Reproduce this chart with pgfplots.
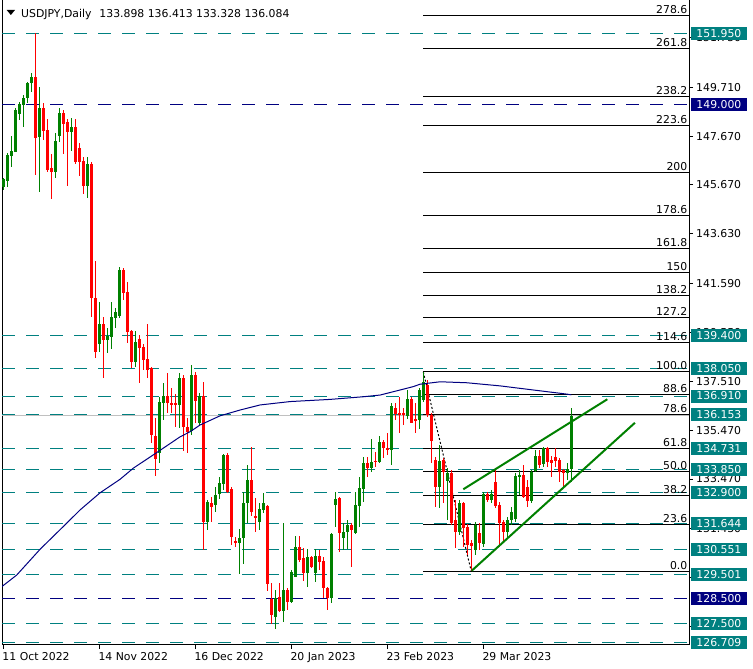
\documentclass[border=0pt]{standalone}
\usepackage{fontspec}
\setmainfont{DejaVu Sans}
\usepackage{pgfplots}
\usepackage{pgfplotstable}
\pgfplotsset{compat=1.18}
\definecolor{mtgreen}{RGB}{0,128,0}
\definecolor{mtred}{RGB}{255,0,0}
\definecolor{mtteal}{RGB}{0,128,128}
\definecolor{mtnavy}{RGB}{0,0,128}
\definecolor{mtgrey}{RGB}{192,192,192}
\newcommand\mtf{\fontsize{10.9}{13}\selectfont}
\tikzset{
  fiblab/.style={anchor=base east, font=\mtf, inner sep=0pt, xshift=-1.5bp, yshift=2bp},
  pbox/.style={fill=#1, text=white, font=\mtf, anchor=west, minimum width=56bp,
    minimum height=13bp, inner sep=0pt, xshift=1.7bp},
}

% daily candles, bar index i (0 = 11 Oct 2022)
\pgfplotstableread{
i o h l c
0 145.57 145.93 145.44 145.90
1 145.83 146.99 145.59 146.90
2 146.86 147.69 146.41 147.06
3 147.04 148.83 147.04 148.76
4 148.59 149.08 148.35 149.01
5 148.97 149.39 148.07 149.25
6 149.25 149.94 149.04 149.87
7 149.87 150.28 149.52 150.12
9 147.63 149.70 145.38 148.83
13 146.21 147.80 145.96 147.48
14 147.69 148.83 147.45 148.65
17 147.86 148.43 147.08 148.06
21 145.63 146.83 145.13 146.53
24 139.07 140.82 138.75 139.89
26 139.23 139.72 138.71 139.40
27 139.37 140.82 138.86 140.20
28 140.16 140.54 139.72 140.41
29 140.24 142.27 140.13 142.13
33 138.33 139.62 138.13 139.16
39 134.54 136.88 134.12 136.65
40 136.63 137.46 135.92 136.91
44 136.54 137.85 135.60 137.67
47 135.46 138.20 135.30 137.78
49 135.78 137.02 135.71 136.91
51 131.70 132.60 131.36 132.53
53 132.40 133.15 132.12 132.81
54 132.85 133.57 132.63 133.29
55 133.26 134.51 133.02 134.47
59 130.81 131.40 129.52 131.01
60 131.01 132.95 129.94 132.46
61 132.49 134.05 131.63 133.43
64 131.70 132.46 131.36 132.22
65 132.18 132.88 132.05 132.46
68 127.74 128.87 127.24 128.52
70 128.02 131.63 127.56 128.87
72 128.39 129.70 128.35 129.60
73 129.42 131.10 129.40 130.64
76 129.56 130.56 129.01 130.22
78 129.56 130.56 129.19 130.28
82 128.52 131.22 128.32 131.19
83 132.39 132.95 131.50 132.63
85 131.01 131.63 130.53 131.29
86 131.29 131.77 130.56 131.56
88 131.22 132.95 131.19 132.39
89 132.35 133.57 131.50 133.08
90 133.06 134.37 132.53 134.12
92 133.91 135.11 133.77 134.19
94 134.19 135.25 134.15 135.02
97 134.67 136.61 134.05 136.50
101 136.08 137.16 135.95 136.77
104 135.92 137.23 135.53 137.16
105 136.75 137.91 136.68 137.50
109 133.15 134.88 132.26 134.23
111 133.39 133.91 131.77 133.71
114 131.29 132.60 131.15 132.49
118 130.53 131.70 130.32 131.57
120 130.78 132.95 130.67 132.85
122 132.60 133.02 132.46 132.84
126 131.29 131.91 131.08 131.77
127 131.77 132.33 131.57 132.12
128 131.80 133.71 131.70 133.60
129 133.57 133.85 132.81 133.62
132 132.57 133.85 132.46 133.78
133 133.82 134.67 133.78 134.43
135 134.09 134.78 133.98 134.74
141 133.71 134.12 133.43 133.90
142 133.898 136.413 133.328 136.084
}\upc

\pgfplotstableread{
i o h l c
8 150.12 151.94 146.07 147.59
10 148.83 149.07 147.52 147.91
11 147.93 148.38 146.21 146.28
12 146.37 146.94 145.08 146.21
15 148.65 148.76 146.93 148.18
16 148.27 148.38 145.61 147.86
18 148.06 148.38 146.53 146.62
19 147.19 147.38 146.04 146.62
20 146.65 146.83 145.28 145.63
22 146.53 146.62 140.20 140.96
23 140.96 142.49 138.47 138.75
25 139.89 140.20 137.65 139.23
30 142.13 142.20 140.89 141.17
31 141.21 141.65 139.12 139.58
32 139.60 139.65 138.06 138.33
34 139.27 139.44 137.46 138.91
35 138.93 139.05 137.99 138.40
36 138.44 139.89 137.65 137.99
37 138.06 138.13 134.95 135.30
38 135.25 135.99 133.61 134.30
41 136.91 137.85 136.19 136.61
42 136.63 137.23 136.22 136.57
43 136.62 136.99 135.64 136.55
45 137.67 137.78 134.63 135.64
46 135.64 135.99 134.54 135.43
48 137.78 137.92 135.78 136.72
50 136.91 137.50 130.53 131.70
52 132.49 132.74 131.70 132.32
56 134.47 134.55 132.88 132.95
57 133.04 133.15 130.74 131.08
58 130.92 131.08 130.64 130.83
62 133.43 134.81 131.94 132.12
63 131.94 132.67 131.29 131.88
66 132.35 132.39 128.84 129.12
67 128.52 129.15 127.46 127.83
69 128.57 129.17 127.95 128.02
71 128.87 128.94 128.04 128.39
74 130.67 131.11 130.05 130.12
75 130.18 130.60 129.24 129.59
77 130.25 130.29 129.77 129.84
79 130.28 130.53 129.70 130.05
80 130.07 130.25 128.53 128.94
81 128.94 129.01 128.04 128.52
84 132.67 132.74 130.46 131.22
87 131.56 131.63 129.81 131.36
91 134.12 134.40 133.57 133.91
93 134.23 134.60 133.96 134.19
95 135.02 135.09 134.33 134.74
96 134.74 135.36 134.46 134.70
98 136.43 136.61 135.92 136.15
99 136.19 136.88 135.36 136.12
100 136.19 136.40 135.71 136.15
102 136.77 136.88 135.78 135.81
103 135.95 136.61 135.36 135.89
106 137.37 137.58 136.06 136.12
107 136.12 136.19 134.12 135.06
108 134.26 134.40 132.33 133.15
110 134.26 134.33 132.46 133.78
112 133.71 133.85 131.57 131.63
113 131.77 132.60 130.60 131.29
115 132.49 132.53 130.67 131.43
116 131.47 131.61 130.32 130.74
117 130.81 130.94 129.64 130.71
119 131.22 131.63 130.53 130.81
121 132.85 132.95 132.53 132.60
123 133.36 133.85 132.26 132.35
124 132.39 132.53 130.67 131.63
125 131.70 131.77 130.81 131.29
130 133.64 134.05 132.67 132.74
131 133.15 133.43 132.33 132.57
134 134.43 134.67 133.91 134.05
136 134.74 134.81 133.98 134.19
137 134.26 134.43 133.54 134.12
138 134.37 134.74 133.98 134.23
139 134.26 134.33 133.36 133.78
140 133.85 133.87 133.15 133.74
}\dnc

% moving average
\pgfplotstableread{
i m
-0.3 129.02
3.35 129.49
9.2 130.56
15.85 131.64
19.2 132.19
24.2 132.90
29.2 133.46
32.5 133.92
37.5 134.47
44.2 135.22
46.7 135.43
49.2 135.71
54.2 136.09
59.2 136.33
64.2 136.54
71.7 136.68
81.7 136.77
90 136.88
94.2 136.95
99.2 137.16
102.5 137.30
104.2 137.40
109.2 137.50
115.85 137.46
124.2 137.33
132.5 137.16
140.85 136.99
142 136.96
}\ma

\begin{document}
\begin{tikzpicture}
\useasboundingbox (0,0) rectangle (753bp,669bp);
\begin{axis}[
    at={(2bp,24bp)}, anchor=south west,
    scale only axis, width=687bp, height=645bp,
    xmin=-0.325, xmax=171.425, ymin=126.592, ymax=153.322,
    clip mode=individual,
    axis line style={black, line width=1bp},
    tick align=outside, major tick length=4bp,
    tick style={black, line width=1bp},
    xtick pos=bottom, ytick pos=right, yticklabel pos=right,
    xtick={0,24,48,72,96,120},
    xticklabels={11 Oct 2022,14 Nov 2022,16 Dec 2022,20 Jan 2023,23 Feb 2023,29 Mar 2023},
    ytick={151.75,149.71,147.67,145.67,143.63,141.59,139.55,137.51,135.47,133.47,131.43,129.39,127.35},
    yticklabels={151.750,149.710,147.670,145.670,143.630,141.590,139.550,137.510,135.470,133.470,131.430,,},
    xticklabel style={font=\mtf, anchor=north west, inner sep=0pt, xshift=-1bp, yshift=-3bp},
    yticklabel style={font=\mtf, anchor=west, inner sep=0pt, xshift=3bp},
]
% horizontal levels
\pgfplotsinvokeforeach{151.95,139.4,138.05,136.91,136.153,134.731,133.85,132.9,131.644,130.551,129.501,127.5,126.709}{
  \addplot[mtteal, line width=1bp, dash pattern=on 13bp off 11bp, forget plot] coordinates {(-0.325,#1) (171.425,#1)};
}
\pgfplotsinvokeforeach{149,128.5}{
  \addplot[mtnavy, line width=1bp, dash pattern=on 13bp off 11bp, forget plot] coordinates {(-0.325,#1) (171.425,#1)};
}
\addplot[mtgrey, line width=1bp, forget plot] coordinates {(-0.325,136.084) (171.425,136.084)};

% fibonacci levels (0 = 129.64, 100 = 137.91)
\pgfplotsinvokeforeach{129.640,131.592,132.799,133.775,134.751,136.140,136.967,137.910,139.117,140.159,141.069,142.045,143.021,144.410,146.180,148.132,149.339,151.291,152.680}{
  \addplot[black, line width=1bp, forget plot] coordinates {(105,#1) (171.425,#1)};
}
\addplot[black, line width=1bp, dash pattern=on 2bp off 2bp, forget plot] coordinates {(105,137.91) (117,129.64)};

% candles
\addplot[draw=none, forget plot, error bars/.cd, y dir=both, y explicit, error mark=none,
  error bar style={draw=mtgreen, line width=1bp}]
  table[x=i, y expr={(\thisrow{h}+\thisrow{l})/2}, y error expr={(\thisrow{h}-\thisrow{l})/2}] {\upc};
\addplot[draw=none, forget plot, error bars/.cd, y dir=both, y explicit, error mark=none,
  error bar style={draw=mtgreen, line width=3bp}]
  table[x=i, y expr={(\thisrow{o}+\thisrow{c})/2}, y error expr={max(abs(\thisrow{c}-\thisrow{o})/2,0.021)}] {\upc};
\addplot[draw=none, forget plot, error bars/.cd, y dir=both, y explicit, error mark=none,
  error bar style={draw=mtred, line width=1bp}]
  table[x=i, y expr={(\thisrow{h}+\thisrow{l})/2}, y error expr={(\thisrow{h}-\thisrow{l})/2}] {\dnc};
\addplot[draw=none, forget plot, error bars/.cd, y dir=both, y explicit, error mark=none,
  error bar style={draw=mtred, line width=3bp}]
  table[x=i, y expr={(\thisrow{o}+\thisrow{c})/2}, y error expr={max(abs(\thisrow{c}-\thisrow{o})/2,0.021)}] {\dnc};

% moving average and channel
\addplot[mtnavy, line width=1bp, mark=none, forget plot] table[x=i, y=m] {\ma};
\addplot[mtgreen, line width=2bp, mark=none, forget plot] coordinates {(115,133.045) (151,136.775)};
\addplot[mtgreen, line width=2bp, mark=none, forget plot] coordinates {(117.1,129.67) (157.9,135.80)};

% fibonacci labels
\node[fiblab] at (axis cs:171.425,129.640) {0.0};
\node[fiblab] at (axis cs:171.425,131.592) {23.6};
\node[fiblab] at (axis cs:171.425,132.799) {38.2};
\node[fiblab] at (axis cs:171.425,133.775) {50.0};
\node[fiblab] at (axis cs:171.425,134.751) {61.8};
\node[fiblab] at (axis cs:171.425,136.140) {78.6};
\node[fiblab] at (axis cs:171.425,136.967) {88.6};
\node[fiblab] at (axis cs:171.425,137.910) {100.0};
\node[fiblab] at (axis cs:171.425,139.117) {114.6};
\node[fiblab] at (axis cs:171.425,140.159) {127.2};
\node[fiblab] at (axis cs:171.425,141.069) {138.2};
\node[fiblab] at (axis cs:171.425,142.045) {150};
\node[fiblab] at (axis cs:171.425,143.021) {161.8};
\node[fiblab] at (axis cs:171.425,144.410) {178.6};
\node[fiblab] at (axis cs:171.425,146.180) {200};
\node[fiblab] at (axis cs:171.425,148.132) {223.6};
\node[fiblab] at (axis cs:171.425,149.339) {238.2};
\node[fiblab] at (axis cs:171.425,151.291) {261.8};
\node[fiblab] at (axis cs:171.425,152.680) {278.6};

% anchors for the price boxes on the right
\coordinate (b1) at (axis cs:171.425,151.95);
\coordinate (b2) at (axis cs:171.425,149.0);
\coordinate (b3) at (axis cs:171.425,139.4);
\coordinate (b4) at (axis cs:171.425,138.05);
\coordinate (b5) at (axis cs:171.425,136.91);
\coordinate (b6) at (axis cs:171.425,136.153);
\coordinate (b7) at (axis cs:171.425,134.731);
\coordinate (b8) at (axis cs:171.425,133.85);
\coordinate (b9) at (axis cs:171.425,132.9);
\coordinate (b10) at (axis cs:171.425,131.644);
\coordinate (b11) at (axis cs:171.425,130.551);
\coordinate (b12) at (axis cs:171.425,129.501);
\coordinate (b13) at (axis cs:171.425,128.5);
\coordinate (b14) at (axis cs:171.425,127.5);
\coordinate (b15) at (axis cs:171.425,126.709);
\end{axis}

\node[pbox=mtteal] at (b1) {151.950};
\node[pbox=mtnavy] at (b2) {149.000};
\node[pbox=mtteal] at (b3) {139.400};
\node[pbox=mtteal] at (b4) {138.050};
\node[pbox=mtteal] at (b5) {136.910};
\node[pbox=mtteal] at (b6) {136.153};
\node[pbox=mtteal] at (b7) {134.731};
\node[pbox=mtteal] at (b8) {133.850};
\node[pbox=mtteal] at (b9) {132.900};
\node[pbox=mtteal] at (b10) {131.644};
\node[pbox=mtteal] at (b11) {130.551};
\node[pbox=mtteal] at (b12) {129.501};
\node[pbox=mtnavy] at (b13) {128.500};
\node[pbox=mtteal] at (b14) {127.500};
\node[pbox=mtteal] at (b15) {126.709};

% chart header
\fill (6.7bp,659bp) -- (15bp,659bp) -- (10.85bp,654bp) -- cycle;
\node[anchor=base west, inner sep=0pt, font=\mtf] at (21bp,651.7bp)
  {USDJPY,Daily\hspace{8bp}133.898 136.413 133.328 136.084};
\end{tikzpicture}
\end{document}
